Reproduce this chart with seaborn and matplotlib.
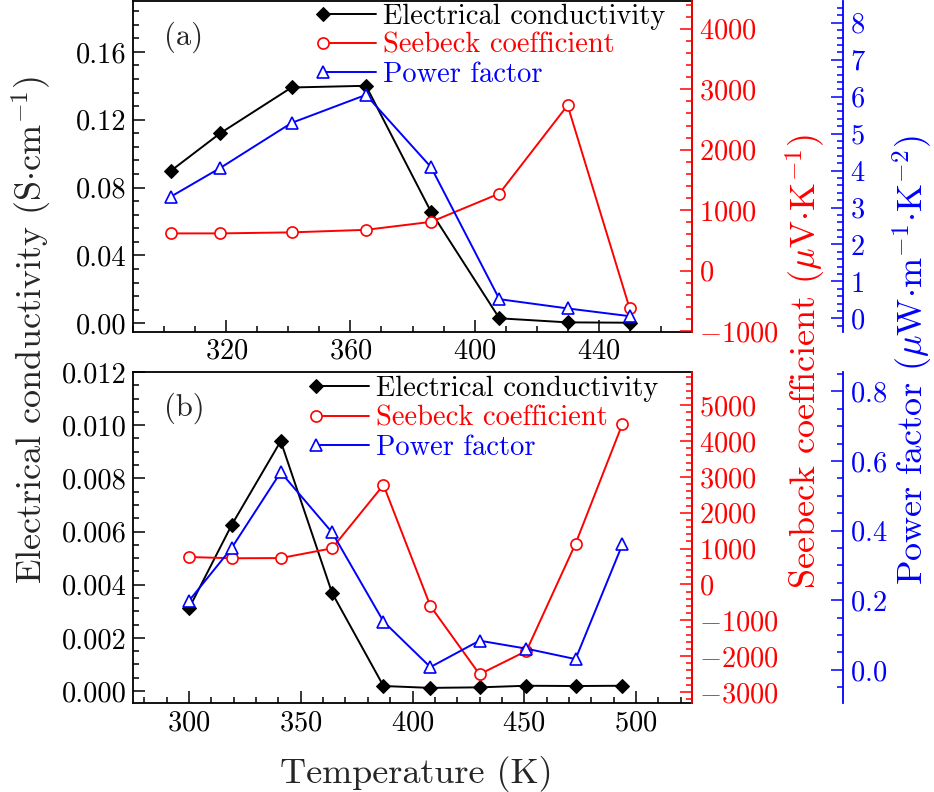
import numpy as np
import pandas as pd
import matplotlib
matplotlib.use("Agg")
import matplotlib.pyplot as plt
import seaborn as sns
from matplotlib.ticker import MultipleLocator, FormatStrFormatter, ScalarFormatter

# panel (a)
temp_a = [302, 318, 341, 365, 386, 408, 430, 450]
sigma_a = [0.0897, 0.1120, 0.1390, 0.1400, 0.0656, 0.0029, 0.0005, 0.0003]
seebeck_a = [616, 616, 633, 675, 807, 1275, 2735, -625]
pf_a = [3.29, 4.07, 5.29, 6.05, 4.09, 0.52, 0.27, 0.06]

# panel (b)
temp_b = [300, 319, 341, 364, 387, 408, 430, 451, 473, 494]
sigma_b = [0.00312, 0.00624, 0.00940, 0.00369, 0.00019, 0.00012, 0.00014, 0.00020, 0.00019, 0.00020]
seebeck_b = [764, 729, 734, 1007, 2774, -603, -2508, -1858, 1136, 4480]
pf_b = [0.199, 0.350, 0.568, 0.395, 0.139, 0.008, 0.084, 0.061, 0.031, 0.361]

series_names = ['Electrical conductivity', 'Seebeck coefficient', 'Power factor']

sns.set_style('ticks')
plt.rcParams['font.family'] = ['cmr10', 'DejaVu Serif']
plt.rcParams['mathtext.fontset'] = 'cm'
plt.rcParams['axes.formatter.use_mathtext'] = True

W, H = 934, 792
TICK_FS = 20.5
LABEL_FS = 26
fig = plt.figure(figsize=(W / 100, H / 100), dpi=100)


def px_box(left, top, right, bottom):
    return [left / W, 1 - bottom / H, (right - left) / W, (bottom - top) / H]


def tick_style(ax, axis, color):
    ax.tick_params(axis=axis, which='both', direction='in', color=color,
                   labelcolor=color, labelsize=TICK_FS, width=1.1, pad=5)
    ax.tick_params(axis=axis, which='major', length=8.5)
    ax.tick_params(axis=axis, which='minor', length=4.5)


def panel(box, temp, sigma, seebeck, pf, xlim, ylims, locs, left_fmt, tag, leg_anchor):
    ax = fig.add_axes(box)
    df = pd.DataFrame({'T': temp, 'sigma': sigma})
    sns.lineplot(data=df, x='T', y='sigma', ax=ax, color='black', marker='D',
                 markersize=7.5, markeredgecolor='black', markerfacecolor='black',
                 lw=1.4, label=series_names[0])
    ax2 = ax.twinx()
    df2 = pd.DataFrame({'T': temp, 'S': seebeck})
    sns.lineplot(data=df2, x='T', y='S', ax=ax2, color='red', marker='o',
                 markersize=8, markeredgecolor='red', markerfacecolor='white',
                 markeredgewidth=1.2, lw=1.4, label=series_names[1])
    ax3 = ax.twinx()
    df3 = pd.DataFrame({'T': temp, 'PF': pf})
    sns.lineplot(data=df3, x='T', y='PF', ax=ax3, color='blue', marker='^',
                 markersize=8.5, markeredgecolor='blue', markerfacecolor='white',
                 markeredgewidth=1.2, lw=1.4, label=series_names[2])
    ax3.spines['right'].set_position(('axes', (843.3 - box[0] * W) / (box[2] * W)))

    handles = []
    for a in (ax, ax2, ax3):
        if a.get_legend() is not None:
            a.get_legend().remove()
        a.set_xlabel('')
        a.set_ylabel('')
        handles.append(a.get_lines()[0])

    ax.set_xlim(*xlim)
    ax.set_ylim(*ylims[0])
    ax2.set_ylim(*ylims[1])
    ax3.set_ylim(*ylims[2])

    ax.xaxis.set_major_locator(MultipleLocator(locs[0][0]))
    ax.xaxis.set_minor_locator(MultipleLocator(locs[0][1]))
    for a, (mj, mn) in zip((ax, ax2, ax3), locs[1:]):
        a.yaxis.set_major_locator(MultipleLocator(mj))
        a.yaxis.set_minor_locator(MultipleLocator(mn))
    ax.yaxis.set_major_formatter(FormatStrFormatter(left_fmt))
    ax2.yaxis.set_major_formatter(ScalarFormatter(useMathText=True))
    ax3.yaxis.set_major_formatter(ScalarFormatter(useMathText=True))

    for s in ax.spines.values():
        s.set_linewidth(1.3)
        s.set_color('black')
    for a, c in ((ax2, 'red'), (ax3, 'blue')):
        for name, s in a.spines.items():
            if name == 'right':
                s.set_color(c)
                s.set_linewidth(1.3)
            else:
                s.set_visible(False)

    tick_style(ax, 'x', 'black')
    tick_style(ax, 'y', 'black')
    ax.tick_params(axis='x', which='both', top=False)
    ax.tick_params(axis='y', which='both', right=False)
    tick_style(ax2, 'y', 'red')
    tick_style(ax3, 'y', 'blue')

    ax.text(0.055, 0.89, tag, transform=ax.transAxes, fontsize=22,
            ha='left', va='center')

    leg = ax3.legend(handles, series_names, loc='upper right', bbox_to_anchor=leg_anchor,
                     frameon=False, fontsize=TICK_FS, handlelength=1.85, handletextpad=0.25,
                     labelspacing=0.1, borderaxespad=0, borderpad=0, numpoints=1)
    for h in leg.legend_handles:
        h.set_markevery([0])
    for txt, c in zip(leg.get_texts(), ['black', 'red', 'blue']):
        txt.set_color(c)
    return ax


panel(px_box(133.3, 1, 691.7, 331.7), temp_a, sigma_a, seebeck_a, pf_a,
      (290, 470), [(-0.005, 0.19), (-1010, 4460), (-0.36, 8.59)],
      [(40, 10), (0.04, 0.008), (1000, 200), (1, 0.2)],
      '%.2f', '(a)', (0.952, 0.993))

panel(px_box(133.3, 372, 691.7, 703.3), temp_b, sigma_b, seebeck_b, pf_b,
      (275, 525), [(-0.00046, 0.012), (-3318, 5926), (-0.096, 0.856)],
      [(50, 10), (0.002, 0.0005), (1000, 200), (0.2, 0.05)],
      '%.3f', '(b)', (0.940, 0.988))

fig.text(32 / W, 1 - 330 / H, r'Electrical conductivity (S$\cdot$cm$^{-1}$)',
         rotation=90, ha='center', va='center', fontsize=LABEL_FS)
fig.text(806 / W, 1 - 361 / H, r'Seebeck coefficient ($\mu$V$\cdot$K$^{-1}$)',
         rotation=90, ha='center', va='center', fontsize=LABEL_FS, color='red')
fig.text(913 / W, 1 - 360 / H, r'Power factor ($\mu$W$\cdot$m$^{-1}$$\cdot$K$^{-2}$)',
         rotation=90, ha='center', va='center', fontsize=LABEL_FS, color='blue')
fig.text(416 / W, 1 - 774 / H, 'Temperature (K)', ha='center', va='center', fontsize=LABEL_FS)

fig.savefig('out.png', dpi=100)
